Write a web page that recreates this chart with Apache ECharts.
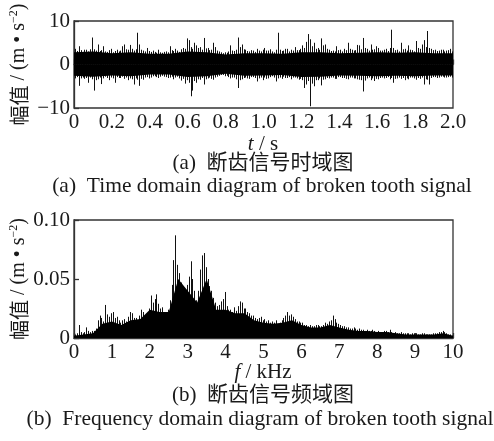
<!DOCTYPE html>
<html><head><meta charset="utf-8">
<script src="https://cdn.jsdelivr.net/npm/echarts@6/dist/echarts.min.js"></script>
<style>html,body{margin:0;padding:0;background:#fff}#c{width:494px;height:441px}</style>
</head><body><div id="c"></div>
<script>
// ---- (a) time domain: per-bin maximum / minimum of the signal, bins of 0.01 s ----
const timeBins = [0.005,0.015,0.025,0.035,0.045,0.055,0.065,0.075,0.085,0.095,
 0.105,0.115,0.125,0.135,0.145,0.155,0.165,0.175,0.185,0.195,
 0.205,0.215,0.225,0.235,0.245,0.255,0.265,0.275,0.285,0.295,
 0.305,0.315,0.325,0.335,0.345,0.355,0.365,0.375,0.385,0.395,
 0.405,0.415,0.425,0.435,0.445,0.455,0.465,0.475,0.485,0.495,
 0.505,0.515,0.525,0.535,0.545,0.555,0.565,0.575,0.585,0.595,
 0.605,0.615,0.625,0.635,0.645,0.655,0.665,0.675,0.685,0.695,
 0.705,0.715,0.725,0.735,0.745,0.755,0.765,0.775,0.785,0.795,
 0.805,0.815,0.825,0.835,0.845,0.855,0.865,0.875,0.885,0.895,
 0.905,0.915,0.925,0.935,0.945,0.955,0.965,0.975,0.985,0.995,
 1.005,1.015,1.025,1.035,1.045,1.055,1.065,1.075,1.085,1.095,
 1.105,1.115,1.125,1.135,1.145,1.155,1.165,1.175,1.185,1.195,
 1.205,1.215,1.225,1.235,1.245,1.255,1.265,1.275,1.285,1.295,
 1.305,1.315,1.325,1.335,1.345,1.355,1.365,1.375,1.385,1.395,
 1.405,1.415,1.425,1.435,1.445,1.455,1.465,1.475,1.485,1.495,
 1.505,1.515,1.525,1.535,1.545,1.555,1.565,1.575,1.585,1.595,
 1.605,1.615,1.625,1.635,1.645,1.655,1.665,1.675,1.685,1.695,
 1.705,1.715,1.725,1.735,1.745,1.755,1.765,1.775,1.785,1.795,
 1.805,1.815,1.825,1.835,1.845,1.855,1.865,1.875,1.885,1.895,
 1.905,1.915,1.925,1.935,1.945,1.955,1.965,1.975,1.985,1.995];
const timeMax = [3.6,3.1,4.2,3.3,2.9,3.4,3.4,3.0,3.5,6.2,
 3.5,3.2,4.6,3.1,3.3,4.2,3.0,2.9,3.3,3.6,
 2.8,3.1,3.4,3.0,3.2,4.2,4.6,3.5,3.4,4.5,
 3.6,3.2,3.5,7.3,4.6,3.4,3.2,3.0,3.8,3.1,
 2.9,3.2,2.9,2.7,3.4,2.8,2.7,2.9,3.0,2.8,
 4.2,3.3,3.1,3.6,3.2,2.9,3.5,3.8,3.6,6.0,
 5.6,4.0,3.6,5.0,4.4,3.8,4.0,3.4,6.1,3.7,
 3.8,3.3,3.4,5.0,4.0,3.2,3.0,2.8,2.6,2.8,
 2.7,3.0,4.4,3.2,3.1,3.4,6.2,4.0,4.6,3.5,
 3.4,3.1,3.0,3.3,3.2,2.9,3.6,3.2,3.0,3.4,
 3.8,3.2,3.2,3.5,3.0,2.8,3.4,7.3,3.4,3.1,
 3.2,3.6,3.6,3.0,3.4,3.2,4.0,3.3,3.3,3.6,
 4.4,3.8,5.2,7.0,5.8,4.2,5.0,3.6,3.8,3.4,
 6.0,4.4,4.6,3.6,3.4,3.1,3.2,3.0,4.2,3.3,
 3.4,3.0,3.6,3.3,5.0,3.6,3.4,3.2,3.3,4.5,
 4.4,3.5,6.1,3.8,3.6,3.2,4.6,3.4,3.5,4.2,
 3.8,3.2,3.2,3.4,3.6,3.1,3.8,8.0,3.8,3.3,
 3.4,3.0,5.0,3.5,3.6,3.2,4.4,3.4,3.3,3.0,
 5.4,3.8,3.6,4.6,5.6,4.0,7.7,3.8,3.6,3.3,
 3.4,3.1,3.2,3.4,3.4,3.0,3.2,3.3,3.6,3.0];
const timeMin = [-3.2,-2.9,-4.9,-3.2,-3.0,-3.3,-3.1,-4.2,-3.0,-3.4,
 -6.0,-3.6,-3.4,-3.0,-4.5,-3.2,-2.8,-3.1,-3.6,-3.0,
 -3.2,-4.2,-2.9,-3.1,-3.1,-2.8,-3.3,-3.0,-3.6,-3.2,
 -3.4,-4.6,-3.2,-3.5,-4.9,-3.3,-3.5,-3.0,-2.9,-3.2,
 -3.0,-2.7,-2.7,-2.9,-3.1,-2.8,-2.6,-2.8,-2.9,-3.1,
 -3.0,-2.8,-3.4,-3.0,-2.8,-3.2,-3.7,-3.3,-4.4,-3.6,
 -4.2,-7.3,-6.0,-3.8,-4.2,-3.4,-3.5,-3.1,-4.6,-3.4,
 -3.2,-3.0,-3.3,-3.5,-3.0,-2.8,-2.6,-2.4,-2.4,-2.7,
 -2.6,-2.9,-3.2,-3.0,-3.0,-3.4,-5.4,-3.6,-3.4,-3.1,
 -3.0,-3.2,-3.3,-2.9,-2.9,-3.1,-3.9,-3.2,-3.0,-3.6,
 -3.0,-3.3,-3.2,-2.9,-2.7,-3.0,-3.9,-3.2,-3.0,-3.3,
 -2.8,-3.1,-3.1,-2.9,-3.4,-3.0,-3.0,-3.2,-3.5,-3.3,
 -3.6,-5.4,-4.6,-3.8,-9.6,-4.4,-5.0,-3.6,-3.6,-3.2,
 -4.8,-3.5,-3.4,-3.1,-3.2,-3.0,-3.0,-3.3,-3.3,-2.9,
 -2.9,-3.1,-3.1,-3.3,-3.4,-3.0,-3.0,-3.2,-3.2,-3.4,
 -3.5,-3.6,-6.2,-3.7,-3.2,-3.0,-3.6,-3.2,-3.8,-3.3,
 -3.4,-3.1,-3.0,-3.2,-3.1,-2.9,-3.4,-3.1,-4.2,-3.3,
 -3.2,-3.0,-3.3,-3.1,-3.6,-3.2,-3.4,-3.0,-3.0,-3.2,
 -3.5,-3.1,-3.3,-3.0,-4.6,-3.4,-3.5,-4.6,-3.1,-2.9,
 -2.9,-3.1,-3.0,-2.8,-2.8,-3.0,-3.0,-2.9,-2.8,-3.0];
// dense core band of the vibration signal (solid black)
const coreT  = [0,0.1,0.2,0.3,0.4,0.5,0.6,0.7,0.8,0.9,1.0,1.1,1.2,1.3,1.4,1.5,1.6,1.7,1.8,1.9,2.0];
const coreHi = [2.8,3.0,2.6,2.8,2.5,2.5,3.0,2.8,2.3,2.6,2.6,2.5,2.8,2.8,2.6,2.7,2.8,2.7,2.8,2.6,2.6];
const coreLo = [-2.6,-2.8,-2.5,-2.7,-2.3,-2.3,-2.9,-2.7,-2.1,-2.6,-2.5,-2.4,-2.9,-2.8,-2.5,-2.6,-2.7,-2.6,-2.7,-2.5,-2.5];

// ---- (b) frequency domain: per-bin peak amplitude, bins of 0.05 kHz ----
const freqBins = [0.025,0.075,0.125,0.175,0.225,0.275,0.325,0.375,0.425,0.475,
 0.525,0.575,0.625,0.675,0.725,0.775,0.825,0.875,0.925,0.975,
 1.025,1.075,1.125,1.175,1.225,1.275,1.325,1.375,1.425,1.475,
 1.525,1.575,1.625,1.675,1.725,1.775,1.825,1.875,1.925,1.975,
 2.025,2.075,2.125,2.175,2.225,2.275,2.325,2.375,2.425,2.475,
 2.525,2.575,2.625,2.675,2.725,2.775,2.825,2.875,2.925,2.975,
 3.025,3.075,3.125,3.175,3.225,3.275,3.325,3.375,3.425,3.475,
 3.525,3.575,3.625,3.675,3.725,3.775,3.825,3.875,3.925,3.975,
 4.025,4.075,4.125,4.175,4.225,4.275,4.325,4.375,4.425,4.475,
 4.525,4.575,4.625,4.675,4.725,4.775,4.825,4.875,4.925,4.975,
 5.025,5.075,5.125,5.175,5.225,5.275,5.325,5.375,5.425,5.475,
 5.525,5.575,5.625,5.675,5.725,5.775,5.825,5.875,5.925,5.975,
 6.025,6.075,6.125,6.175,6.225,6.275,6.325,6.375,6.425,6.475,
 6.525,6.575,6.625,6.675,6.725,6.775,6.825,6.875,6.925,6.975,
 7.025,7.075,7.125,7.175,7.225,7.275,7.325,7.375,7.425,7.475,
 7.525,7.575,7.625,7.675,7.725,7.775,7.825,7.875,7.925,7.975,
 8.025,8.075,8.125,8.175,8.225,8.275,8.325,8.375,8.425,8.475,
 8.525,8.575,8.625,8.675,8.725,8.775,8.825,8.875,8.925,8.975,
 9.025,9.075,9.125,9.175,9.225,9.275,9.325,9.375,9.425,9.475,
 9.525,9.575,9.625,9.675,9.725,9.775,9.825,9.875,9.925,9.975];
const specPeak = [0.003,0.004,0.011,0.005,0.004,0.005,0.009,0.006,0.005,0.006,
 0.006,0.008,0.015,0.019,0.017,0.014,0.028,0.020,0.018,0.021,
 0.022,0.017,0.018,0.015,0.013,0.015,0.016,0.014,0.018,0.022,
 0.021,0.017,0.017,0.015,0.019,0.024,0.022,0.018,0.020,0.025,
 0.036,0.030,0.033,0.037,0.029,0.025,0.026,0.022,0.020,0.024,
 0.032,0.045,0.066,0.087,0.062,0.055,0.047,0.040,0.033,0.045,
 0.052,0.065,0.050,0.040,0.032,0.040,0.058,0.070,0.072,0.060,
 0.050,0.044,0.040,0.034,0.030,0.027,0.028,0.031,0.033,0.039,
 0.027,0.024,0.024,0.022,0.026,0.023,0.027,0.031,0.030,0.025,
 0.025,0.022,0.021,0.019,0.019,0.017,0.016,0.017,0.018,0.015,
 0.016,0.014,0.015,0.013,0.014,0.013,0.015,0.012,0.013,0.015,
 0.017,0.019,0.022,0.019,0.020,0.018,0.016,0.014,0.014,0.013,
 0.013,0.011,0.011,0.010,0.011,0.010,0.010,0.011,0.011,0.010,
 0.010,0.011,0.013,0.012,0.014,0.015,0.019,0.016,0.013,0.012,
 0.011,0.010,0.010,0.009,0.009,0.008,0.008,0.009,0.008,0.007,
 0.008,0.007,0.007,0.006,0.007,0.006,0.006,0.007,0.006,0.005,
 0.006,0.005,0.005,0.006,0.006,0.005,0.007,0.005,0.004,0.005,
 0.004,0.004,0.005,0.004,0.004,0.004,0.004,0.003,0.004,0.004,
 0.004,0.003,0.003,0.004,0.004,0.003,0.003,0.003,0.003,0.004,
 0.004,0.004,0.005,0.005,0.006,0.005,0.004,0.003,0.003,0.002];
// solid black body of the spectrum
const coreF = [0,0.25,0.5,0.75,1.0,1.25,1.5,1.75,2.0,2.25,2.5,2.75,3.0,3.25,3.5,3.75,4.0,4.25,4.5,4.75,
 5.0,5.25,5.5,5.75,6.0,6.25,6.5,6.75,7.0,7.25,7.5,7.75,8.0,8.25,8.5,8.75,9.0,9.25,9.5,9.75,10.0];
const specCore = [0.002,0.003,0.004,0.012,0.014,0.011,0.015,0.016,0.024,0.022,0.022,0.050,0.040,0.030,0.050,0.024,0.024,0.021,0.021,0.015,
 0.013,0.012,0.013,0.015,0.011,0.009,0.009,0.011,0.009,0.007,0.006,0.006,0.005,0.005,0.004,0.003,0.003,0.003,0.003,0.004,0.002];

const FONT = "'Liberation Serif','Noto Sans CJK SC',serif";
const TXT = '#1a1a1a';
const pairs = (xs, ys) => xs.map((x, i) => [x, ys[i]]);

function vSeg(params, api) {
  const a = api.coord([api.value(0), api.value(1)]);
  const b = api.coord([api.value(0), api.value(2)]);
  const x = Math.round(a[0]) + 0.5;
  return {type: 'line', shape: {x1: x, y1: a[1], x2: x, y2: b[1]},
          style: {stroke: '#111', lineWidth: 1}};
}

const axisLine = {show: true, lineStyle: {color: '#333', width: 1.3}};
const tick = {show: true, inside: true, length: 5, lineStyle: {color: '#333', width: 1.3}};
const lbl = {fontFamily: FONT, fontSize: 21, color: TXT};

const yName = {text: '{c|幅值} / (m • s{sup|\u22122})', align: 'center', verticalAlign: 'middle', fill: TXT,
  font: "20px " + FONT,
  rich: {c: {fontFamily: "'Noto Sans CJK SC'", fontSize: 20, lineHeight: 22, fill: TXT},
         sup: {fontFamily: FONT, fontSize: 12, verticalAlign: 'top', lineHeight: 22, fill: TXT}}};

const chart = echarts.init(document.getElementById('c'), null, {renderer: 'canvas'});
chart.setOption({
  animation: false,
  backgroundColor: '#fff',
  grid: [
    {left: 74, top: 21, width: 379, height: 87, show: true, borderColor: '#333', borderWidth: 1.3},
    {left: 74, top: 220, width: 379, height: 118, show: true, borderColor: '#333', borderWidth: 1.3}
  ],
  xAxis: [
    {gridIndex: 0, type: 'value', min: 0, max: 2, interval: 0.2, axisLine, axisTick: tick, splitLine: {show: false},
     axisLabel: Object.assign({margin: 4, formatter: v => v === 0 ? '0' : v.toFixed(1)}, lbl)},
    {gridIndex: 1, type: 'value', min: 0, max: 10, interval: 1, axisLine, axisTick: tick, splitLine: {show: false},
     axisLabel: Object.assign({margin: 4}, lbl)}
  ],
  yAxis: [
    {gridIndex: 0, type: 'value', min: -10, max: 10, interval: 10, axisLine, axisTick: tick, splitLine: {show: false},
     axisLabel: Object.assign({margin: 4, formatter: v => v < 0 ? '\u2212' + Math.abs(v) : String(v)}, lbl)},
    {gridIndex: 1, type: 'value', min: 0, max: 0.1, interval: 0.05, axisLine, axisTick: tick, splitLine: {show: false},
     axisLabel: Object.assign({margin: 4, formatter: v => v === 0 ? '0' : v.toFixed(2)}, lbl)}
  ],
  series: [
    {type: 'line', xAxisIndex: 0, yAxisIndex: 0, data: pairs(coreT, coreHi), symbol: 'none',
     lineStyle: {width: 0}, areaStyle: {color: '#000', opacity: 1}, silent: true},
    {type: 'line', xAxisIndex: 0, yAxisIndex: 0, data: pairs(coreT, coreLo), symbol: 'none',
     lineStyle: {width: 0}, areaStyle: {color: '#000', opacity: 1}, silent: true},
    {type: 'custom', xAxisIndex: 0, yAxisIndex: 0, renderItem: vSeg, silent: true,
     encode: {x: 0, y: [1, 2]},
     data: timeBins.map((t, i) => [t, timeMax[i], timeMin[i]])},
    {type: 'line', xAxisIndex: 1, yAxisIndex: 1, data: pairs(coreF, specCore), symbol: 'none',
     lineStyle: {width: 0}, areaStyle: {color: '#000', opacity: 1}, silent: true},
    {type: 'custom', xAxisIndex: 1, yAxisIndex: 1, renderItem: vSeg, silent: true,
     encode: {x: 0, y: [1, 2]},
     data: freqBins.map((f, i) => [f, specPeak[i], 0])}
  ],
  graphic: [
    {type: 'text', x: 19, y: 64.5, rotation: Math.PI / 2, style: yName},
    {type: 'text', x: 19, y: 279, rotation: Math.PI / 2, style: yName},
    {type: 'text', x: 263, y: 144,
     style: {text: '{i|t} / s', align: 'center', verticalAlign: 'middle', fill: TXT, font: "21px " + FONT,
       rich: {i: {fontFamily: FONT, fontStyle: 'italic', fontSize: 21, fill: TXT}}}},
    {type: 'text', x: 263, y: 163.5,
     style: {text: '(a)  断齿信号时域图', align: 'center', verticalAlign: 'middle', fill: TXT, font: "21px " + FONT}},
    {type: 'text', x: 262, y: 186,
     style: {text: '(a)  Time domain diagram of broken tooth signal', align: 'center', verticalAlign: 'middle', fill: TXT, font: "21.5px " + FONT}},
    {type: 'text', x: 263, y: 372,
     style: {text: '{i|f} / kHz', align: 'center', verticalAlign: 'middle', fill: TXT, font: "21px " + FONT,
       rich: {i: {fontFamily: FONT, fontStyle: 'italic', fontSize: 21, fill: TXT}}}},
    {type: 'text', x: 263, y: 395,
     style: {text: '(b)  断齿信号频域图', align: 'center', verticalAlign: 'middle', fill: TXT, font: "21px " + FONT}},
    {type: 'text', x: 260, y: 419,
     style: {text: '(b)  Frequency domain diagram of broken tooth signal', align: 'center', verticalAlign: 'middle', fill: TXT, font: "21.5px " + FONT}}
  ]
});
</script></body></html>
